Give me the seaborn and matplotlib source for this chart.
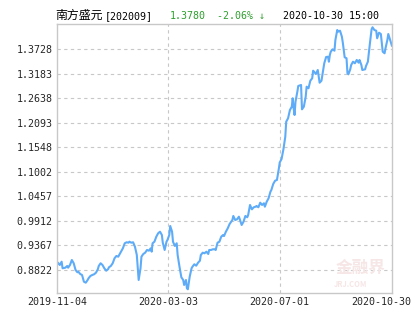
import pandas as pd
import matplotlib
matplotlib.use("Agg")
import matplotlib.pyplot as plt
import matplotlib.transforms as mtransforms
import seaborn as sns

# ---- data ----
start_date = "2019-11-04"
day_offsets = [
    0, 1, 3, 5, 6, 9, 11, 12, 14, 16, 18, 20, 22, 23, 25, 27, 29, 31, 33, 34,
    36, 38, 40, 42, 44, 45, 47, 49, 51, 53, 55, 56, 58, 60, 62, 64, 66, 67, 69, 71,
    73, 75, 77, 78, 80, 82, 84, 86, 88, 90, 91, 93, 95, 97, 99, 101, 102, 103, 105, 107,
    109, 111, 113, 114, 116, 118, 119, 121, 122, 124, 125, 127, 129, 130, 132, 134, 136, 137, 139, 140,
    141, 143, 145, 146, 148, 150, 152, 154, 155, 157, 159, 161, 163, 164, 166, 168, 170, 171, 173, 175,
    177, 179, 180, 182, 184, 186, 189, 190, 192, 194, 196, 197, 199, 201, 203, 205, 206, 208, 210, 212,
    214, 215, 217, 219, 221, 223, 224, 226, 228, 230, 231, 233, 235, 237, 239, 240, 242, 244, 246, 247,
    249, 251, 253, 254, 255, 256, 257, 259, 260, 263, 264, 266, 268, 269, 271, 273, 275, 276, 277, 279,
    281, 283, 285, 286, 288, 290, 292, 293, 294, 295, 297, 299, 300, 302, 303, 305, 307, 308, 310, 312,
    313, 314, 316, 317, 319, 321, 323, 325, 326, 328, 329, 332, 333, 335, 337, 339, 340, 342, 344, 345,
    347, 349, 351, 353, 354, 356, 357, 361,
]
nav_values = [
    0.8949, 0.8984, 0.8933, 0.9006, 0.8860, 0.8873, 0.8911, 0.8873, 0.8933, 0.9044,
    0.8971, 0.8822, 0.8771, 0.8784, 0.8733, 0.8711, 0.8562, 0.8540, 0.8600, 0.8638,
    0.8689, 0.8711, 0.8727, 0.8762, 0.8838, 0.8911, 0.8971, 0.8933, 0.8860, 0.8806,
    0.8838, 0.8882, 0.8911, 0.8971, 0.9082, 0.9133, 0.9117, 0.9155, 0.9228, 0.9304,
    0.9415, 0.9437, 0.9428, 0.9450, 0.9428, 0.9437, 0.9339, 0.9155, 0.8600, 0.8860,
    0.9117, 0.9177, 0.9206, 0.9266, 0.9250, 0.9304, 0.9228, 0.9415, 0.9450, 0.9561,
    0.9637, 0.9672, 0.9599, 0.9428, 0.9266, 0.9450, 0.9488, 0.9599, 0.9799, 0.9672,
    0.9450, 0.9355, 0.9415, 0.9155, 0.8895, 0.8660, 0.8600, 0.8489, 0.8600, 0.8416,
    0.8394, 0.8673, 0.8860, 0.8895, 0.8949, 0.8917, 0.8984, 0.9028, 0.9155, 0.9206,
    0.9193, 0.9228, 0.9177, 0.9266, 0.9266, 0.9282, 0.9282, 0.9266, 0.9428, 0.9450,
    0.9561, 0.9599, 0.9577, 0.9672, 0.9748, 0.9843, 0.9932, 1.0021, 0.9932, 0.9947,
    1.0005, 0.9947, 0.9821, 0.9894, 1.0021, 0.9992, 1.0043, 1.0265, 1.0169, 1.0214,
    1.0227, 1.0243, 1.0214, 1.0316, 1.0265, 1.0303, 1.0227, 1.0338, 1.0414, 1.0560,
    1.0598, 1.0731, 1.0804, 1.0820, 1.1064, 1.1208, 1.1286, 1.1501, 1.1781, 1.2114,
    1.2190, 1.2374, 1.2447, 1.2634, 1.2412, 1.2263, 1.2558, 1.2780, 1.2907, 1.2929,
    1.2389, 1.2447, 1.2669, 1.2891, 1.2856, 1.3024, 1.3078, 1.3246, 1.3224, 1.3173,
    1.3262, 1.2980, 1.3024, 1.3151, 1.3411, 1.3550, 1.3557, 1.3446, 1.3595, 1.3668,
    1.3721, 1.3690, 1.3928, 1.4150, 1.4112, 1.4134, 1.4001, 1.3868, 1.3544, 1.3522,
    1.3189, 1.3166, 1.3277, 1.3373, 1.3446, 1.3411, 1.3484, 1.3424, 1.3484, 1.3373,
    1.3262, 1.3277, 1.3351, 1.3446, 1.3817, 1.4165, 1.4210, 1.4150, 1.4134, 1.3966,
    1.4090, 1.4061, 1.3668, 1.3633, 1.3744, 1.3928, 1.4061, 1.3795,
]
ytick_labels = ["0.8822", "0.9367", "0.9912", "1.0457", "1.1002",
                "1.1548", "1.2093", "1.2638", "1.3183", "1.3728"]
xtick_labels = ["2019-11-04", "2020-03-03", "2020-07-01", "2020-10-30"]
fund_name = "南方盛元"
fund_code = "[202009]"
last_nav = "1.3780"
last_change = "-2.06% ↓"
stamp = "2020-10-30 15:00"

# ---- figure ----
sns.set_style("white")
plt.rcParams['font.family'] = ['Noto Sans CJK SC', 'DejaVu Sans']
MONO = ["DejaVu Sans Mono"]
FS = 7.2

dates = pd.to_datetime(start_date) + pd.to_timedelta(day_offsets, unit="D")
df = pd.DataFrame({"date": dates, "nav": nav_values})
xticks = pd.to_datetime(xtick_labels)

fig = plt.figure(figsize=(4.15, 3.30), dpi=100)
ax = fig.add_axes([57/415, 37/330, 335/415, 269/330])
sns.lineplot(data=df, x="date", y="nav", ax=ax, color="#5eacf8", linewidth=1.5)
ax.set_xlim(xticks[0], xticks[-1])
ax.set_ylim(0.8311, 1.4283)

yt = [float(s) for s in ytick_labels]
ax.set_yticks(yt)
ax.set_yticklabels(ytick_labels, family=MONO, fontsize=FS)
ax.set_xticks(xticks)
ax.set_xticklabels(xtick_labels, family=MONO, fontsize=FS)
ax.tick_params(length=0, pad=3)
ax.set_xlabel("")
ax.set_ylabel("")

for y in yt:
    ax.axhline(y, color="#c8c8c8", lw=0.8, ls=(0, (3, 3)), zorder=0)
for d in xticks[1:3]:
    ax.axvline(d, color="#c8c8c8", lw=0.8, ls=(0, (3, 3)), zorder=0)
for s in ax.spines.values():
    s.set_color("#c8c8c8")
    s.set_linewidth(1)

lab = ax.get_xticklabels()[-1]
lab.set_transform(lab.get_transform() +
                  mtransforms.ScaledTranslation(-11/100, 0, fig.dpi_scale_trans))

ty = 1 - 19/330
fig.text(55/415, ty, fund_name, fontsize=8.6, color="black", va="baseline")
fig.text(105/415, ty, fund_code, fontsize=FS, color="black", va="baseline", family=MONO)
fig.text(170/415, ty, last_nav, fontsize=FS, color="#2e9e2e", va="baseline", family=MONO)
fig.text(217/415, ty, last_change, fontsize=FS, color="#2e9e2e", va="baseline", family=MONO)
fig.text(283/415, ty, stamp, fontsize=FS, color="black", va="baseline", family=MONO)

# faint watermark
ax.text(0.905, 0.095, "金融界", transform=ax.transAxes, fontsize=12, color="#f6e6e6",
        ha="center", va="center", fontweight="bold", zorder=0)
ax.text(0.875, 0.03, "JRJ.COM", transform=ax.transAxes, fontsize=5.5, color="#f6e6e6",
        ha="center", va="center", fontweight="bold", style="italic", zorder=0)

fig.savefig("out.png", dpi=100)
